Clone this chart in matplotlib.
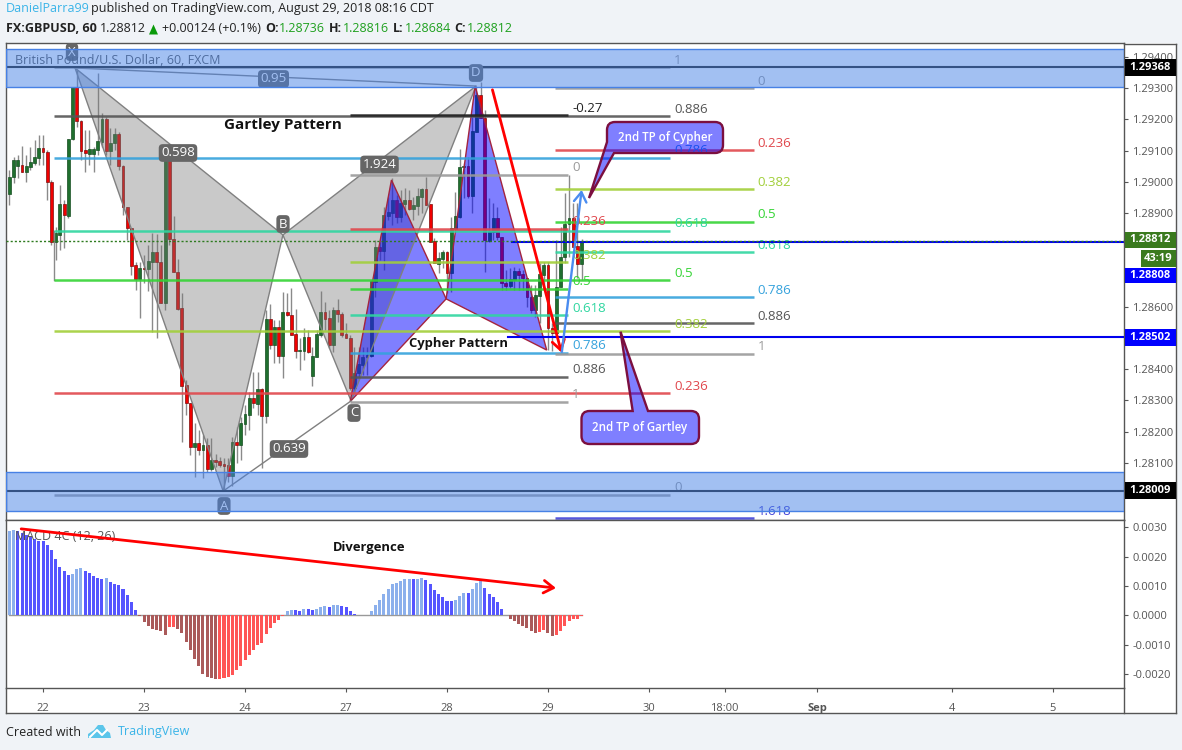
"""GBPUSD 60 minute chart with Gartley and Cypher drawings and a MACD pane."""

import matplotlib

matplotlib.use("Agg")
import matplotlib.pyplot as plt
from matplotlib.lines import Line2D
from matplotlib.patches import PathPatch, Polygon, Rectangle
from matplotlib.path import Path
from matplotlib.transforms import Affine2D

plt.rcParams["font.family"] = ["Open Sans", "DejaVu Sans"]

# all prices in points (1e-5)
opens = [
    128961, 129016, 129051, 129054, 129032, 129048, 129061, 129077, 129109, 129096,
    129000, 128807, 128830, 128929, 128891, 129138, 129304, 129195, 129102, 129089,
    129089, 129102, 129128, 129202, 129099, 129125, 129154, 129051, 128920, 128852,
    128734, 128689, 128724, 128721, 128743, 128775, 128743, 128612, 129086, 128817,
    128711, 128596, 128349, 128291, 128150, 128163, 128141, 128157, 128080, 128109,
    128105, 128096, 128093, 128057, 128166, 128157, 128224, 128253, 128307, 128288,
    128336, 128250, 128561, 128477, 128535, 128442, 128583, 128573, 128513, 128458,
    128458, 128503, 128378, 128439, 128509, 128583, 128564, 128477, 128589, 128577,
    128513, 128500, 128339, 128388, 128413, 128439, 128442, 128679, 128791, 128779,
    128891, 128900, 128942, 128888, 128929, 128942, 128913, 128923, 128952, 128977,
    128929, 128811, 128737, 128753, 128775, 128708, 128849, 128888, 129048, 129051,
    128955, 129160, 129279, 129205, 128811, 128839, 128884, 128823, 128676, 128666,
    128686, 128714, 128705, 128692, 128631, 128589, 128634, 128702, 128734, 128532,
    128516, 128663, 128759, 128865, 128884, 128795, 128737,
]
highs = [
    129038, 129080, 129086, 129115, 129086, 129112, 129134, 129150, 129150, 129102,
    129006, 128855, 128990, 128942, 129138, 129304, 129359, 129198, 129166, 129166,
    129112, 129349, 129221, 129208, 129173, 129173, 129160, 129054, 128920, 128852,
    128743, 128743, 128766, 128798, 128836, 128833, 128798, 129086, 129086, 128891,
    128753, 128644, 128365, 128291, 128227, 128205, 128189, 128179, 128179, 128128,
    128118, 128115, 128115, 128182, 128214, 128247, 128285, 128327, 128391, 128391,
    128339, 128589, 128609, 128557, 128557, 128647, 128644, 128660, 128593, 128500,
    128532, 128525, 128471, 128525, 128650, 128615, 128589, 128599, 128625, 128583,
    128548, 128509, 128471, 128471, 128471, 128471, 128686, 128814, 128807, 128920,
    128952, 129013, 128958, 128974, 128980, 128974, 128952, 128980, 128980, 129016,
    128929, 128820, 128775, 128782, 128779, 128888, 128968, 129105, 129061, 129080,
    129208, 129304, 129320, 129230, 128948, 128932, 128920, 128823, 128718, 128724,
    128727, 128724, 128718, 128692, 128670, 128670, 128740, 128743, 128743, 128548,
    128814, 128855, 128964, 129022, 128932, 128932, 128816,
]
lows = [
    128926, 128996, 129013, 129032, 129000, 129038, 129054, 129054, 129054, 128942,
    128798, 128750, 128782, 128788, 128884, 129134, 129176, 129070, 129032, 129054,
    129032, 129086, 129112, 129086, 129054, 129102, 129038, 128894, 128814, 128702,
    128654, 128564, 128676, 128650, 128519, 128500, 128612, 128589, 128798, 128711,
    128589, 128166, 128253, 128125, 128054, 128125, 128051, 128070, 128073, 128086,
    128086, 128013, 128038, 128025, 128099, 128109, 128189, 128205, 128275, 128253,
    128083, 128227, 128464, 128420, 128420, 128372, 128570, 128509, 128436, 128397,
    128429, 128452, 128346, 128439, 128503, 128525, 128468, 128455, 128551, 128503,
    128500, 128333, 128323, 128375, 128381, 128381, 128439, 128631, 128750, 128718,
    128878, 128862, 128868, 128871, 128894, 128910, 128878, 128894, 128900, 128926,
    128807, 128740, 128708, 128724, 128644, 128647, 128839, 128884, 128948, 128948,
    128900, 129160, 129205, 128711, 128807, 128814, 128814, 128654, 128654, 128660,
    128654, 128654, 128654, 128599, 128580, 128567, 128548, 128654, 128461, 128458,
    128503, 128663, 128740, 128759, 128791, 128692, 128684,
]
closes = [
    129016, 129070, 129070, 129032, 129051, 129064, 129080, 129109, 129096, 129000,
    128807, 128836, 128929, 128894, 129138, 129304, 129195, 129099, 129093, 129105,
    129105, 129131, 129202, 129099, 129125, 129154, 129051, 128920, 128852, 128730,
    128689, 128724, 128721, 128746, 128775, 128743, 128612, 129086, 128817, 128711,
    128593, 128346, 128291, 128150, 128163, 128141, 128157, 128080, 128109, 128102,
    128093, 128089, 128057, 128166, 128157, 128227, 128256, 128307, 128291, 128336,
    128250, 128561, 128477, 128535, 128442, 128583, 128573, 128509, 128458, 128461,
    128503, 128455, 128442, 128513, 128583, 128561, 128477, 128589, 128577, 128509,
    128500, 128339, 128388, 128416, 128439, 128445, 128682, 128791, 128779, 128894,
    128904, 128942, 128888, 128932, 128942, 128913, 128926, 128955, 128977, 128926,
    128807, 128740, 128756, 128775, 128708, 128852, 128891, 129048, 129051, 128955,
    129163, 129279, 129205, 128814, 128843, 128884, 128823, 128676, 128666, 128689,
    128714, 128702, 128692, 128631, 128589, 128638, 128705, 128734, 128532, 128516,
    128663, 128759, 128865, 128884, 128791, 128737, 128812,
]
# MACD histogram in 1e-5
macd = [
    288, 292, 288, 280, 274, 267, 260, 255, 252, 241, 223, 193, 166, 152, 138, 141,
    158, 162, 152, 146, 135, 128, 125, 127, 114, 107, 104, 90, 70, 47, 18, -2, -22,
    -36, -47, -50, -54, -67, -40, -39, -46, -60, -90, -119, -149, -173, -200, -210,
    -214, -218, -217, -215, -210, -204, -187, -173, -153, -135, -119, -101, -93, -64,
    -42, -25, -16, -2, 15, 18, 17, 16, 22, 21, 18, 22, 30, 32, 30, 35, 36, 32, 28, 15,
    5, 1, 1, 1, 15, 35, 52, 73, 90, 107, 112, 117, 124, 125, 124, 125, 126, 119, 107,
    87, 73, 61, 49, 48, 52, 66, 76, 75, 90, 112, 116, 93, 73, 63, 46, 23, 1, -13, -19,
    -30, -36, -44, -54, -60, -56, -50, -60, -71, -68, -54, -36, -19, -13, -12, -4,
]

date_ticks = [8, 32, 56, 80, 104, 128, 152, 170, 192, 224, 248]
date_labels = ["22", "23", "24", "27", "28", "29", "30", "18:00", "Sep", "4", "5"]
price_ticks = [128100 + 100 * n for n in range(14)]
# these scale labels sit behind the price tags in the chart
hidden_price_labels = [128500, 128700, 128800]
macd_ticks = [-200, -100, 0, 100, 200, 300]

# harmonic pattern points: (bar, price)
gartley_x = (15.6, 129365)
gartley_a = (50.8, 128009)
gartley_b = (65.0, 128830)
gartley_c = (81.2, 128298)
gartley_d = (110.9, 129307)
cypher_x = (81.0, 128296)
cypher_a = (90.8, 129006)
cypher_b = (103.8, 128625)
cypher_c = (110.7, 129307)
cypher_d = (127.7, 128461)

# fib retracements: bar span and (label, price)
fib_gartley_span = (10.7, 157.0)
fib_gartley = [("1", 129368), ("0.886", 129210), ("0.786", 129077), ("0.618", 128844),
               ("0.5", 128684), ("0.382", 128522), ("0.236", 128323), ("0", 127998)]
fib_cypher_span = (81.0, 132.8)
fib_cypher = [("-0.27", 129214), ("0", 129022), ("0.236", 128849), ("0.382", 128743),
              ("0.5", 128657), ("0.618", 128573), ("0.786", 128452), ("0.886", 128376),
              ("1", 128295)]
fib_third_span = (129.7, 176.9)
fib_third = [("0", 129300), ("0.236", 129101), ("0.382", 128976), ("0.5", 128872),
             ("0.618", 128775), ("0.786", 128630), ("0.886", 128547), ("1", 128449),
             ("1.618", 127922)]
fib_colors = {"-0.27": "#222222", "0": "#9a9a9a", "0.236": "#e0474c", "0.382": "#a2cf3a",
              "0.5": "#35d435", "0.618": "#2fd6a0", "0.786": "#35a2dc", "0.886": "#555555",
              "1": "#9a9a9a", "1.618": "#4444d8"}

zones = [(129305, 129425), (127946, 128069)]
PX = Affine2D().scale(1, -1).translate(0, 750)  # image pixels to display
HEAD = "->,head_length=0.7,head_width=0.45"


def p(points):
    return points / 1e5


def draw_candles(ax):
    for i, (o, h, l, c) in enumerate(zip(opens, highs, lows, closes)):
        up = c >= o
        ax.vlines(i, p(l), p(h), color="#8a8a8a", lw=1, zorder=2)
        ax.bar(i, p(abs(c - o)) or 0.00001, bottom=p(min(o, c)), width=0.68,
               color="#1f6f2e" if up else "#f00000",
               edgecolor="#174f22" if up else "#7d1010", lw=0.5, zorder=2.5)


def draw_triangle(ax, pts, fill, edge, lw):
    xy = [(x, p(y)) for x, y in pts]
    ax.add_patch(Polygon(xy, closed=True, fc=fill, ec="none", zorder=3))
    ax.add_patch(Polygon(xy, closed=True, fc="none", ec=edge, lw=lw, zorder=3.2))


def draw_fib(ax, span, levels):
    for name, level in levels:
        col = fib_colors[name]
        ax.plot(span, [p(level)] * 2, color=col, lw=1.8, alpha=0.9, zorder=4, solid_capstyle="butt")
        ax.annotate(name, (span[1], p(level)), xytext=(4, 7), textcoords="offset pixels",
                    color=col, fontsize=9.5, va="center", zorder=5)


def chip(ax, x, y, text, size=9.5):
    ax.text(x, y, text, transform=PX, color="white", fontsize=size, ha="center", va="center",
            zorder=5, bbox=dict(boxstyle="round,pad=0.18,rounding_size=0.3", fc="#666666", ec="none"))


def rounded_path(points):
    verts, codes = [], []
    n = len(points)
    for k, (x, y, r) in enumerate(points):
        if r == 0:
            verts.append((x, y))
            codes.append(Path.LINETO)
            continue
        px0, py0 = points[k - 1][:2]
        px1, py1 = points[(k + 1) % n][:2]
        d0 = ((px0 - x) ** 2 + (py0 - y) ** 2) ** 0.5
        d1 = ((px1 - x) ** 2 + (py1 - y) ** 2) ** 0.5
        verts += [(x + (px0 - x) * r / d0, y + (py0 - y) * r / d0), (x, y),
                  (x + (px1 - x) * r / d1, y + (py1 - y) * r / d1)]
        codes += [Path.LINETO, Path.CURVE3, Path.CURVE3]
    codes[0] = Path.MOVETO
    verts.append(verts[0])
    codes.append(Path.CLOSEPOLY)
    return Path(verts, codes)


def callout(ax, points, text, tx, ty):
    patch = PathPatch(rounded_path(points), fc=(0, 0, 1, 0.5), ec="#7b0f3f", lw=1.7,
                      transform=PX, zorder=8)
    ax.add_artist(patch)
    ax.text(tx, ty, text, transform=PX, color="white", fontsize=8.3, fontweight="semibold",
            ha="center", va="center", zorder=9)


def arrow(ax, start, end, col, lw):
    ax.annotate("", xy=(end[0], p(end[1])), xytext=(start[0], p(start[1])), zorder=7,
                arrowprops=dict(arrowstyle=HEAD, color=col, lw=lw, shrinkA=0, shrinkB=0))


def price_tag(fig, y0, y1, text, col, x0=1124.5):
    fig.add_artist(Rectangle((x0, y0), 1175.5 - x0, y1 - y0, transform=PX, fc=col, ec="none", zorder=6))
    fig.text((x0 + 1175.5) / 2, (y0 + y1) / 2, text, transform=PX, color="white", fontsize=8,
             fontweight="bold", ha="center", va="center", zorder=7)


def draw_main(ax):
    draw_candles(ax)
    draw_triangle(ax, [gartley_x, gartley_a, gartley_b], (0.47, 0.47, 0.47, 0.4), "#808080", 1)
    draw_triangle(ax, [gartley_b, gartley_c, gartley_d], (0.47, 0.47, 0.47, 0.4), "#808080", 1)
    draw_triangle(ax, [cypher_x, cypher_a, cypher_b], (0, 0, 1, 0.5), "#a3243f", 1)
    draw_triangle(ax, [cypher_b, cypher_c, cypher_d], (0, 0, 1, 0.5), "#a3243f", 1)
    for a, b in [(gartley_x, gartley_d), (gartley_a, gartley_c)]:
        ax.plot([a[0], b[0]], [p(a[1]), p(b[1])], color="#808080", lw=1, zorder=3.2)

    draw_fib(ax, fib_gartley_span, fib_gartley)
    draw_fib(ax, fib_cypher_span, fib_cypher)
    draw_fib(ax, fib_third_span, fib_third)
    ax.plot([fib_gartley_span[0]] * 2, [p(128684), p(128844)], color="#8a8a8a", lw=1, zorder=3)

    ax.axhline(p(129368), color="#222222", lw=1.5, zorder=5)
    ax.axhline(p(128009), color="#222222", lw=1.5, zorder=5)
    ax.plot([118.5, 265], [p(128502)] * 2, color="#0000ee", lw=1.5, zorder=5)
    ax.plot([119.5, 265], [p(128808)] * 2, color="#0000ee", lw=1.5, zorder=5)
    ax.axhline(p(128812), color="#2d7a1e", lw=1, ls=(0, (1.5, 1.5)), zorder=5.2)
    for low, high in zones:
        ax.axhspan(p(low), p(high), fc=(0.28, 0.51, 0.9, 0.5), ec="#4781e5", lw=1, zorder=6)

    chip(ax, 72, 52, "X")
    chip(ax, 224, 506, "A")
    chip(ax, 283, 224, "B")
    chip(ax, 354, 413, "C")
    chip(ax, 476, 73, "D")
    chip(ax, 178, 153, "0.598")
    chip(ax, 273.5, 79, "0.95")
    chip(ax, 379.5, 164.5, "1.924")
    chip(ax, 289, 449, "0.639")

    ax.text(15, 60, "British Pound/U.S. Dollar, 60, FXCM", transform=PX, color="#555555",
            fontsize=9, va="center", zorder=5)
    ax.text(224, 125, "Gartley Pattern", transform=PX, color="#111111", fontsize=11,
            fontweight="bold", va="center", zorder=9)
    ax.text(409, 343, "Cypher Pattern", transform=PX, color="#111111", fontsize=9.4,
            fontweight="bold", va="center", zorder=9)

    arrow(ax, (114.8, 129295), (131.2, 128453), "#ff0000", 2)
    arrow(ax, (131.3, 128455), (136.0, 128974), "#4a8cf0", 1.7)
    callout(ax, [(607, 122, 8), (723, 122, 8), (723, 153, 8), (614, 153, 0), (589, 198, 0),
                 (607, 142, 0)], "2nd TP of Cypher", 665, 137)
    callout(ax, [(581.5, 411, 8), (632.7, 411, 0), (620.5, 331.7, 0), (648, 411, 0), (699, 411, 8),
                 (699, 444, 8), (581.5, 444, 8)], "2nd TP of Gartley", 640, 427)

    ax.set_xlim(-0.81, 264.9)
    ax.set_ylim(p(127918), p(129445))
    ax.yaxis.tick_right()
    ax.set_yticks([p(t) for t in price_ticks])
    ax.set_yticklabels(["" if t in hidden_price_labels else f"{p(t):.5f}" for t in price_ticks])
    ax.tick_params(axis="y", colors="#555555", labelsize=8, length=3, pad=3)
    ax.tick_params(axis="x", bottom=False, labelbottom=False)


def draw_macd(ax):
    colors = []
    for i, v in enumerate(macd):
        rising = i == 0 or v >= macd[i - 1]
        if v >= 0:
            colors.append("#8cb0ec" if rising else "#5555ff")
        else:
            colors.append("#ff5555" if rising else "#aa5a5a")
    ax.bar(range(len(macd)), [v / 1e5 for v in macd], width=0.72, color=colors, zorder=2)
    ax.plot([0, len(macd) - 1], [0, 0], color="#999999", lw=1, zorder=1.5)
    ax.annotate("", xy=(129.9, 0.00093), xytext=(2.8, 0.00295), zorder=5,
                arrowprops=dict(arrowstyle=HEAD, color="#ff0000", lw=2, shrinkA=0, shrinkB=0))
    ax.text(15, 537, "MACD 4C (12, 26)", transform=PX, color="#555555", fontsize=9, va="center", zorder=4)
    ax.text(333, 547, "Divergence", transform=PX, color="#111111", fontsize=9.4, fontweight="bold",
            va="center", zorder=4)

    ax.set_ylim(-0.00248, 0.00327)
    ax.yaxis.tick_right()
    ax.set_yticks([t / 1e5 for t in macd_ticks])
    ax.set_yticklabels([f"{t / 1e5:.4f}" for t in macd_ticks])
    ax.set_xticks(date_ticks)
    ax.set_xticklabels(date_labels)
    ax.tick_params(axis="y", colors="#555555", labelsize=8, length=3, pad=3)
    ax.tick_params(axis="x", colors="#555555", labelsize=8, length=3, pad=8)
    ax.get_xticklabels()[date_labels.index("Sep")].set_fontweight("bold")


def draw_chrome(fig):
    ink = "#222222"
    fig.text(6, 8.5, "DanielParra99", transform=PX, color="#3ab4e8", fontsize=9, va="center")
    fig.text(91, 8.5, "published on TradingView.com, August 29, 2018 08:16 CDT", transform=PX,
             color=ink, fontsize=9, va="center")
    fig.text(6, 29, "FX:GBPUSD, 60", transform=PX, color=ink, fontsize=9, fontweight="bold", va="center")
    fig.text(100, 29, "1.28812", transform=PX, color=ink, fontsize=9, va="center")
    fig.add_artist(Polygon([(149, 34.5), (158, 34.5), (153.5, 24.5)], transform=PX, fc="#0a9a0a", ec="none"))
    fig.text(162, 29, "+0.00124 (+0.1%)", transform=PX, color=ink, fontsize=9, va="center")
    for key, x_key, val, x_val in [("O:", 265, "1.28736", 279), ("H:", 329, "1.28816", 343),
                                   ("L:", 393, "1.28684", 405), ("C:", 454, "1.28812", 467)]:
        fig.text(x_key, 29, key, transform=PX, color=ink, fontsize=9, fontweight="bold", va="center")
        fig.text(x_val, 29, val, transform=PX, color="#1fa01f", fontsize=9, va="center")

    frame = "#555555"
    for xs, ys in [((1124, 1176), (43.5, 43.5)), ((1176, 1176), (43.5, 713)), ((6, 1176), (713, 713)),
                   ((6, 6), (688, 713)), ((1124, 1124), (688, 713))]:
        fig.add_artist(Line2D(xs, ys, transform=PX, color=frame, lw=1))

    price_tag(fig, 59, 76, "1.29368", "#000000")
    price_tag(fig, 232, 248, "1.28812", "#3a7a1e")
    price_tag(fig, 250, 267, "43:19", "#3a7a1e", x0=1141)
    price_tag(fig, 267.5, 283, "1.28808", "#0000ff")
    price_tag(fig, 329, 346, "1.28502", "#0000ff")
    price_tag(fig, 482, 499, "1.28009", "#000000")

    fig.text(6, 732, "Created with", transform=PX, color=ink, fontsize=9, va="center")
    fig.add_artist(Polygon([(88, 738), (88, 734), (94, 730), (98, 725), (103, 725), (106, 730),
                            (110, 733), (111, 738)], transform=PX, fc="#5bc5ea", ec="none"))
    fig.add_artist(Line2D((90, 97, 102, 107), (737, 730, 735, 730), transform=PX, color="white", lw=1.5))
    fig.text(118, 732, "TradingView", transform=PX, color="#3ab4e8", fontsize=9, va="center")


def main():
    fig = plt.figure(figsize=(11.82, 7.5), dpi=100, facecolor="#f0f3f7")
    ax_main = fig.add_axes([6 / 1182, (750 - 519.5) / 750, 1118 / 1182, 476.5 / 750])
    ax_macd = fig.add_axes([6 / 1182, (750 - 688) / 750, 1118 / 1182, 168.5 / 750], sharex=ax_main)
    for ax in (ax_main, ax_macd):
        ax.set_facecolor("white")
        for spine in ax.spines.values():
            spine.set_color("#555555")
            spine.set_linewidth(1)
    # the right scale sits outside the axes, so give it a white panel
    fig.add_artist(Rectangle((1124, 43), 52, 670, transform=PX, fc="white", ec="none", zorder=-1))
    fig.add_artist(Rectangle((6, 688), 1118, 25, transform=PX, fc="white", ec="none", zorder=-1))
    draw_main(ax_main)
    draw_macd(ax_macd)
    draw_chrome(fig)
    fig.savefig("out.png", dpi=100, facecolor=fig.get_facecolor())


if __name__ == "__main__":
    main()
